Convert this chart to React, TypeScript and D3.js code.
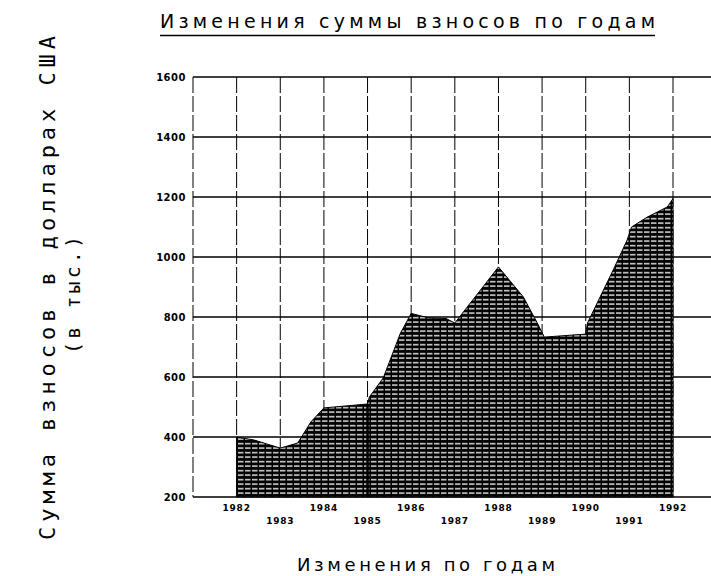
// @ts-nocheck
import React, { useEffect, useRef } from "react";
import * as d3 from "d3";

// points along the top of the shaded area (year, thousands of USD)
const years = [
  1982, 1982.4, 1983, 1983.4, 1983.7, 1984, 1985, 1985.04, 1985.36, 1985.75,
  1986, 1986.4, 1986.8, 1987, 1988, 1988.57, 1988.89, 1989.05, 1990, 1990.04,
  1990.33, 1990.63, 1990.95, 1991.05, 1991.41, 1991.87, 1992,
];
const amounts = [
  400, 390, 363, 380, 450, 497, 510, 533, 597, 745, 812, 797, 795, 780, 967,
  867, 780, 733, 743, 780, 867, 957, 1057, 1100, 1133, 1167, 1195,
];
const yTicks = [200, 400, 600, 800, 1000, 1200, 1400, 1600];
const xTicks = [1982, 1983, 1984, 1985, 1986, 1987, 1988, 1989, 1990, 1991, 1992];

const title = "Изменения суммы взносов по годам";
const xTitle = "Изменения по годам";
const yTitle1 = "Сумма взносов в долларах США";
const yTitle2 = "(в тыс.)";

const App = () => {
  const svgRef = useRef();

  useEffect(() => {
    const width = 711;
    const height = 576;
    const left = 193;

    const svg = d3.select(svgRef.current);
    svg.selectAll("*").remove();
    svg.attr("width", width).attr("height", height);

    const x = d3.scaleLinear().domain([1981, 1992]).range([left, 673]);
    const y = d3.scaleLinear().domain([200, 1600]).range([497, 77]);

    // hatch fill: black with thin broken white stripes
    const pat = svg
      .append("defs")
      .append("pattern")
      .attr("id", "hatch")
      .attr("patternUnits", "userSpaceOnUse")
      .attr("width", 7)
      .attr("height", 4.5);
    pat.append("rect").attr("width", 7).attr("height", 4.5).attr("fill", "#000");
    pat
      .append("rect")
      .attr("x", 0)
      .attr("y", 2)
      .attr("width", 5.5)
      .attr("height", 1.3)
      .attr("fill", "#fff");

    // title
    svg
      .append("text")
      .attr("x", 160)
      .attr("y", 28)
      .attr("textLength", 495)
      .attr("lengthAdjust", "spacing")
      .style("font-family", "DejaVu Sans")
      .style("font-size", "19px")
      .text(title);
    svg
      .append("line")
      .attr("x1", 160)
      .attr("x2", 655)
      .attr("y1", 35.5)
      .attr("y2", 35.5)
      .attr("stroke", "#000")
      .attr("stroke-width", 1.5);

    // vertical dashed grid
    svg
      .append("line")
      .attr("x1", left)
      .attr("x2", left)
      .attr("y1", y(1600))
      .attr("y2", y(200))
      .attr("stroke", "#000")
      .attr("stroke-width", 1)
      .attr("stroke-dasharray", "16,3");
    svg
      .selectAll(".vgrid")
      .data(xTicks)
      .enter()
      .append("line")
      .attr("x1", (d) => x(d))
      .attr("x2", (d) => x(d))
      .attr("y1", y(1600))
      .attr("y2", y(200))
      .attr("stroke", "#000")
      .attr("stroke-width", 1)
      .attr("stroke-dasharray", "16,3");

    // horizontal grid
    svg
      .selectAll(".hgrid")
      .data(yTicks)
      .enter()
      .append("line")
      .attr("x1", left)
      .attr("x2", width)
      .attr("y1", (d) => y(d))
      .attr("y2", (d) => y(d))
      .attr("stroke", "#000")
      .attr("stroke-width", 1.6);

    // area
    const pts = years.map((yr, i) => [yr, amounts[i]]);
    const area = d3
      .area()
      .x((d) => x(d[0]))
      .y0(y(200))
      .y1((d) => y(d[1]));
    svg
      .append("path")
      .datum(pts)
      .attr("d", area)
      .attr("fill", "url(#hatch)")
      .attr("stroke", "#000")
      .attr("stroke-width", 1);

    // dark line at 1985
    svg
      .append("line")
      .attr("x1", x(1985))
      .attr("x2", x(1985))
      .attr("y1", y(200))
      .attr("y2", y(amounts[years.indexOf(1985)]))
      .attr("stroke", "#000")
      .attr("stroke-width", 2.5);

    // y tick labels
    svg
      .selectAll(".ylab")
      .data(yTicks)
      .enter()
      .append("text")
      .attr("x", 186)
      .attr("y", (d) => y(d) + 4)
      .attr("text-anchor", "end")
      .style("font-family", "DejaVu Sans")
      .style("font-weight", "bold")
      .style("font-size", "10px")
      .style("letter-spacing", "0.5px")
      .text((d) => d);

    // x tick labels, staggered
    svg
      .selectAll(".xlab")
      .data(xTicks)
      .enter()
      .append("text")
      .attr("x", (d) => x(d))
      .attr("y", (d, i) => (i % 2 === 0 ? 511 : 524))
      .attr("text-anchor", "middle")
      .style("font-family", "DejaVu Sans")
      .style("font-weight", "bold")
      .style("font-size", "9px")
      .style("letter-spacing", "0.8px")
      .text((d) => d);

    // axis titles
    svg
      .append("text")
      .attr("x", 297)
      .attr("y", 571)
      .attr("textLength", 258)
      .attr("lengthAdjust", "spacing")
      .style("font-family", "DejaVu Sans")
      .style("font-size", "18px")
      .text(xTitle);

    svg
      .append("text")
      .attr("transform", "translate(55,288) rotate(-90)")
      .attr("x", -252)
      .attr("textLength", 504)
      .attr("lengthAdjust", "spacing")
      .style("font-family", "DejaVu Sans Mono")
      .style("font-size", "22px")
      .text(yTitle1);
    svg
      .append("text")
      .attr("transform", "translate(80,295) rotate(-90)")
      .attr("x", -59)
      .attr("textLength", 118)
      .attr("lengthAdjust", "spacing")
      .style("font-family", "DejaVu Sans Mono")
      .style("font-size", "20px")
      .text(yTitle2);
  }, []);

  return (
    <svg
      ref={svgRef}
      style={{ position: "absolute", left: 0, top: 0, background: "#fff" }}
    ></svg>
  );
};

export default App;
